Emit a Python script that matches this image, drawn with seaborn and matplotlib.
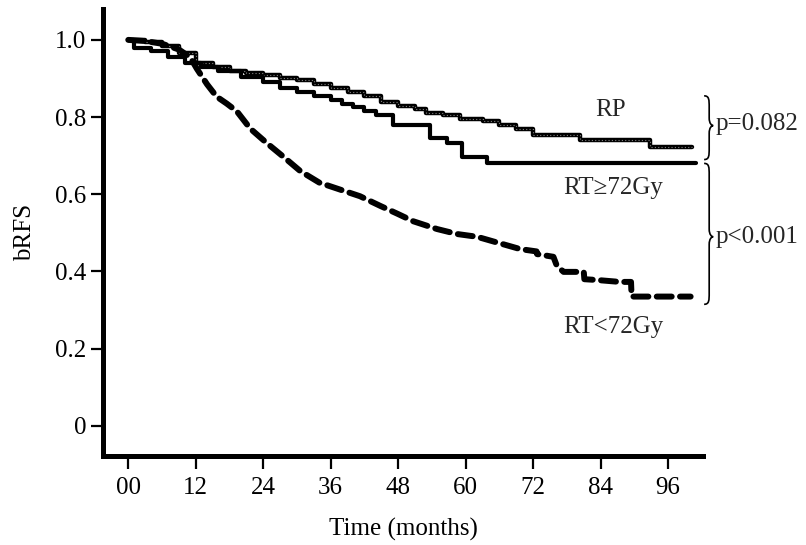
import matplotlib
matplotlib.use("Agg")
import matplotlib.pyplot as plt
import seaborn as sns
import pandas as pd
from matplotlib.path import Path
from matplotlib.patches import PathPatch

# ---- data ----
rp_t = [0, 3, 6, 9, 12, 15, 18, 21, 24, 27, 30, 33, 36, 39, 42, 45, 48, 51, 53, 56,
        59, 63, 66, 69, 72, 80.4, 92.8, 100.3]
rp_s = [1.0, 0.995, 0.985, 0.965, 0.94, 0.93, 0.92, 0.915, 0.908, 0.902, 0.895, 0.885,
        0.875, 0.865, 0.855, 0.84, 0.83, 0.82, 0.81, 0.805, 0.795, 0.79, 0.78, 0.77,
        0.754, 0.741, 0.723, 0.723]

hi_t = [0, 1, 4, 7, 10, 13, 16, 20, 24, 27, 30, 33, 36, 38, 40, 42, 44, 47, 53.7,
        56.6, 59.4, 63.8, 101]
hi_s = [1.0, 0.98, 0.97, 0.955, 0.94, 0.93, 0.92, 0.905, 0.89, 0.875, 0.865, 0.855,
        0.845, 0.835, 0.825, 0.815, 0.805, 0.78, 0.746, 0.733, 0.697, 0.681, 0.681]

lo_t = [0, 3, 6, 9, 11, 12.2, 14, 15.7, 17.5, 19.3, 21.7, 24.6, 27.6, 30.6, 34, 37.7,
        41.2, 44.8, 47.8, 50.7, 54.9, 58.5, 62, 65.6, 69.7, 72.6, 72.7, 75.6, 76.2,
        77.4, 81, 81.1, 83.3, 87.4, 89.4, 89.5, 100]
lo_s = [1.0, 0.997, 0.99, 0.975, 0.955, 0.925, 0.885, 0.853, 0.835, 0.815, 0.77, 0.733,
        0.697, 0.66, 0.63, 0.612, 0.595, 0.57, 0.55, 0.53, 0.51, 0.497, 0.49, 0.475,
        0.458, 0.452, 0.445, 0.438, 0.415, 0.399, 0.399, 0.38, 0.378, 0.373, 0.373,
        0.335, 0.335]

x_ticks = [0, 12, 24, 36, 48, 60, 72, 84, 96]
x_ticklabels = ["00", "12", "24", "36", "48", "60", "72", "84", "96"]
y_ticks = [0, 0.2, 0.4, 0.6, 0.8, 1.0]
y_ticklabels = ["0", "0.2", "0.4", "0.6", "0.8", "1.0"]

group_labels = ["RP", "RT\u226572Gy", "RT<72Gy"]
p_labels = ["p=0.082", "p<0.001"]

# ---- plot ----
sns.set_theme(style="white")
plt.rcParams["font.family"] = ["Liberation Serif", "DejaVu Serif"]

FS = 18

fig = plt.figure(figsize=(8.06, 5.45), dpi=100)
ax = fig.add_axes([103/806, 1-456/545, 600/806, 447/545])

df_rp = pd.DataFrame({"t": rp_t, "s": rp_s})
df_hi = pd.DataFrame({"t": hi_t, "s": hi_s})
df_lo = pd.DataFrame({"t": lo_t, "s": lo_s})

sns.lineplot(data=df_rp, x="t", y="s", ax=ax, color="black", lw=3.2,
             drawstyle="steps-post", estimator=None, sort=False)
sns.lineplot(data=df_rp, x="t", y="s", ax=ax, color="#808080", lw=0.8,
             linestyle=(0, (1, 2)), drawstyle="steps-post", estimator=None, sort=False)
sns.lineplot(data=df_hi, x="t", y="s", ax=ax, color="black", lw=3.0,
             drawstyle="steps-post", estimator=None, sort=False)
sns.lineplot(data=df_lo, x="t", y="s", ax=ax, color="black", lw=4.3,
             linestyle=(0, (2.5, 1.4)), estimator=None,
             sort=False, dash_capstyle="round")

ax.set_xlim(-4.5, 102.2)
ax.set_ylim(-0.078, 1.08)
ax.set_xticks(x_ticks)
ax.set_xticklabels(x_ticklabels)
ax.set_yticks(y_ticks)
ax.set_yticklabels(y_ticklabels)
ax.tick_params(axis="both", which="major", direction="out", length=9, width=1.6,
               color="black", labelsize=FS, labelcolor="black", bottom=True, left=True)
ax.tick_params(axis="x", pad=6)
ax.tick_params(axis="y", pad=3)

for side in ["top", "right"]:
    ax.spines[side].set_visible(False)
for side in ["left", "bottom"]:
    ax.spines[side].set_linewidth(3.6)
    ax.spines[side].set_color("black")

ax.set_xlabel("Time (months)", fontsize=FS, labelpad=14, color="black")
ax.set_ylabel("bRFS", fontsize=FS, labelpad=14, color="black")

# group labels
ax.text(85.7, 0.819, group_labels[0], fontsize=FS, ha="center", va="center")
ax.text(86.2, 0.617, group_labels[1], fontsize=FS, ha="center", va="center")
ax.text(86.2, 0.256, group_labels[2], fontsize=FS, ha="center", va="center")

# curly braces
def brace(ax, x, y0, y1, ytip, w):
    h = w
    verts = [
        (x, y0),
        (x + h, y0), (x + h, y0 - 0.01), (x + h, y0 - 0.03),
        (x + h, ytip + 0.02),
        (x + h, ytip + 0.005), (x + 1.5 * h, ytip), (x + 1.8 * h, ytip),
        (x + 1.5 * h, ytip), (x + h, ytip - 0.005), (x + h, ytip - 0.02),
        (x + h, y1 + 0.03),
        (x + h, y1 + 0.01), (x + h, y1), (x, y1),
    ]
    codes = [Path.MOVETO,
             Path.CURVE4, Path.CURVE4, Path.CURVE4,
             Path.LINETO,
             Path.CURVE4, Path.CURVE4, Path.CURVE4,
             Path.CURVE4, Path.CURVE4, Path.CURVE4,
             Path.LINETO,
             Path.CURVE4, Path.CURVE4, Path.CURVE4]
    p = PathPatch(Path(verts, codes), fill=False, lw=1.2, color="black",
                  clip_on=False)
    ax.add_patch(p)

brace(ax, 102.4, 0.855, 0.69, 0.778, 0.9)
brace(ax, 102.4, 0.68, 0.315, 0.49, 0.9)

ax.text(104.4, 0.782, p_labels[0], fontsize=FS, ha="left", va="center", clip_on=False)
ax.text(104.4, 0.49, p_labels[1], fontsize=FS, ha="left", va="center", clip_on=False)

fig.savefig("out.png", dpi=100, facecolor="white")
